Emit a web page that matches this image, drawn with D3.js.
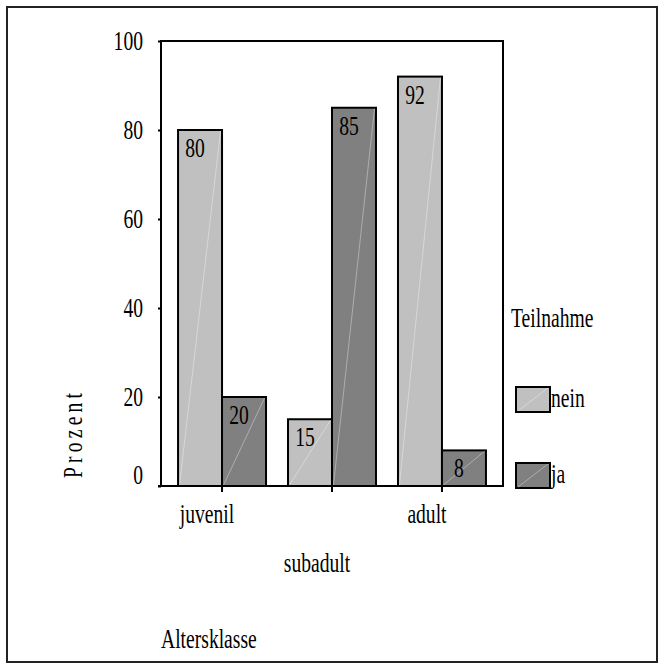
<!DOCTYPE html>
<html>
<head>
<meta charset="utf-8">
<script src="https://cdn.jsdelivr.net/npm/d3@7"></script>
<style>
  html, body { margin: 0; padding: 0; background: #fff; }
  svg { display: block; }
</style>
</head>
<body>
<svg id="chart" width="664" height="669"></svg>
<script>
// ---- data ----
const categories = ["juvenil", "subadult", "adult"];
const seriesNames = ["nein", "ja"];
const neinValues = [80, 15, 92];
const jaValues = [20, 85, 8];
const yTicks = [0, 20, 40, 60, 80, 100];
const yTitle = "Prozent";
const xTitle = "Altersklasse";
const legendTitle = "Teilnahme";
const seriesColors = ["#c0c0c0", "#808080"];

(function () {
// ---- layout ----
const svg = d3.select("#chart");
const FONT = "'Liberation Serif', 'Times New Roman', serif";
const FS = 28, SX = 0.7;

function addText(x, y, str, anchor, rot) {
  return svg.append("text")
    .attr("transform", `translate(${x},${y}) rotate(${rot || 0}) scale(${SX},1)`)
    .attr("font-family", FONT)
    .attr("font-size", FS)
    .attr("fill", "#000")
    .attr("text-anchor", anchor || "start")
    .text(str);
}

// outer border
svg.append("rect")
  .attr("x", 7).attr("y", 7).attr("width", 650).attr("height", 655)
  .attr("fill", "none").attr("stroke", "#222").attr("stroke-width", 2);

const pLeft = 161, pRight = 503, pTop = 41, pBottom = 486;

const y = d3.scaleLinear().domain([0, 100]).range([pBottom, pTop]);
const x = d3.scaleBand().domain(categories).range([pLeft, pRight])
  .paddingInner(0.2).paddingOuter(0.155);
const xs = d3.scaleBand().domain(seriesNames).range([0, x.bandwidth()]);

const data = categories.map((c, i) => ({
  cat: c,
  vals: [ {s: "nein", v: neinValues[i], k: 0}, {s: "ja", v: jaValues[i], k: 1} ]
}));

// bars
const groups = svg.selectAll("g.grp").data(data).enter().append("g")
  .attr("class", "grp")
  .attr("transform", d => `translate(${x(d.cat)},0)`);

const bars = groups.selectAll("g.bar").data(d => d.vals).enter().append("g").attr("class", "bar");
bars.append("rect")
  .attr("x", d => xs(d.s))
  .attr("y", d => y(d.v))
  .attr("width", xs.bandwidth())
  .attr("height", d => y(0) - y(d.v))
  .attr("fill", d => seriesColors[d.k])
  .attr("stroke", "#000").attr("stroke-width", 2);
bars.append("line")
  .attr("x1", d => xs(d.s) + 1.5)
  .attr("y1", y(0) - 1)
  .attr("x2", d => xs(d.s) + xs.bandwidth() - 1.5)
  .attr("y2", d => y(d.v) + 1)
  .attr("stroke", "#fff").attr("stroke-opacity", 0.45).attr("stroke-width", 0.8);

// value labels
data.forEach(d => {
  d.vals.forEach(v => {
    addText(x(d.cat) + xs(v.s) + xs.bandwidth() / 2 - 5, y(v.v) + 27, String(v.v), "middle");
  });
});

// frame (left, top, right)
svg.append("path")
  .attr("d", `M${pLeft},${pBottom} L${pLeft},${pTop} L${pRight},${pTop} L${pRight},${pBottom}`)
  .attr("fill", "none").attr("stroke", "#000").attr("stroke-width", 2);

// y axis
const yAxis = d3.axisLeft(y).tickValues(yTicks).tickSize(3).tickFormat("");
const yg = svg.append("g").attr("transform", `translate(${pLeft},0)`).call(yAxis);
yg.select(".domain").remove();
yg.selectAll(".tick line").attr("stroke", "#000").attr("stroke-width", 2);
yTicks.forEach(t => {
  addText(143, y(t) + 9 - (t === 0 ? 11 : 0), String(t), "end");
});

// x axis
const xAxis = d3.axisBottom(x).tickSize(6).tickFormat("");
const xg = svg.append("g").attr("transform", `translate(0,${pBottom})`).call(xAxis);
xg.select(".domain").remove();
xg.selectAll(".tick line").attr("stroke", "#000").attr("stroke-width", 2);
svg.append("line").attr("x1", pLeft - 3).attr("x2", pRight + 1)
  .attr("y1", pBottom).attr("y2", pBottom)
  .attr("stroke", "#000").attr("stroke-width", 2);

// staggered category labels
categories.forEach((c, i) => {
  const cx = x(c) + x.bandwidth() / 2 - 15;
  addText(cx, i % 2 === 0 ? 523 : 572, c, "middle");
});

// axis titles
addText(161, 648, xTitle, "start");
svg.append("text")
  .attr("transform", `translate(82,478) rotate(-90) scale(${SX},1)`)
  .attr("font-family", FONT).attr("font-size", FS)
  .attr("letter-spacing", 6)
  .text(yTitle);

// legend
addText(511, 327, legendTitle, "start");
const legY = [387, 463];
seriesNames.forEach((s, i) => {
  svg.append("rect").attr("x", 516).attr("y", legY[i]).attr("width", 34).attr("height", 25)
    .attr("fill", seriesColors[i]).attr("stroke", "#000").attr("stroke-width", 2);
  svg.append("line").attr("x1", 518).attr("y1", legY[i] + 24)
    .attr("x2", 548).attr("y2", legY[i] + 1)
    .attr("stroke", "#fff").attr("stroke-opacity", 0.45).attr("stroke-width", 0.8);
  addText(551, legY[i] + 20, s, "start");
});
})();
</script>
</body>
</html>
